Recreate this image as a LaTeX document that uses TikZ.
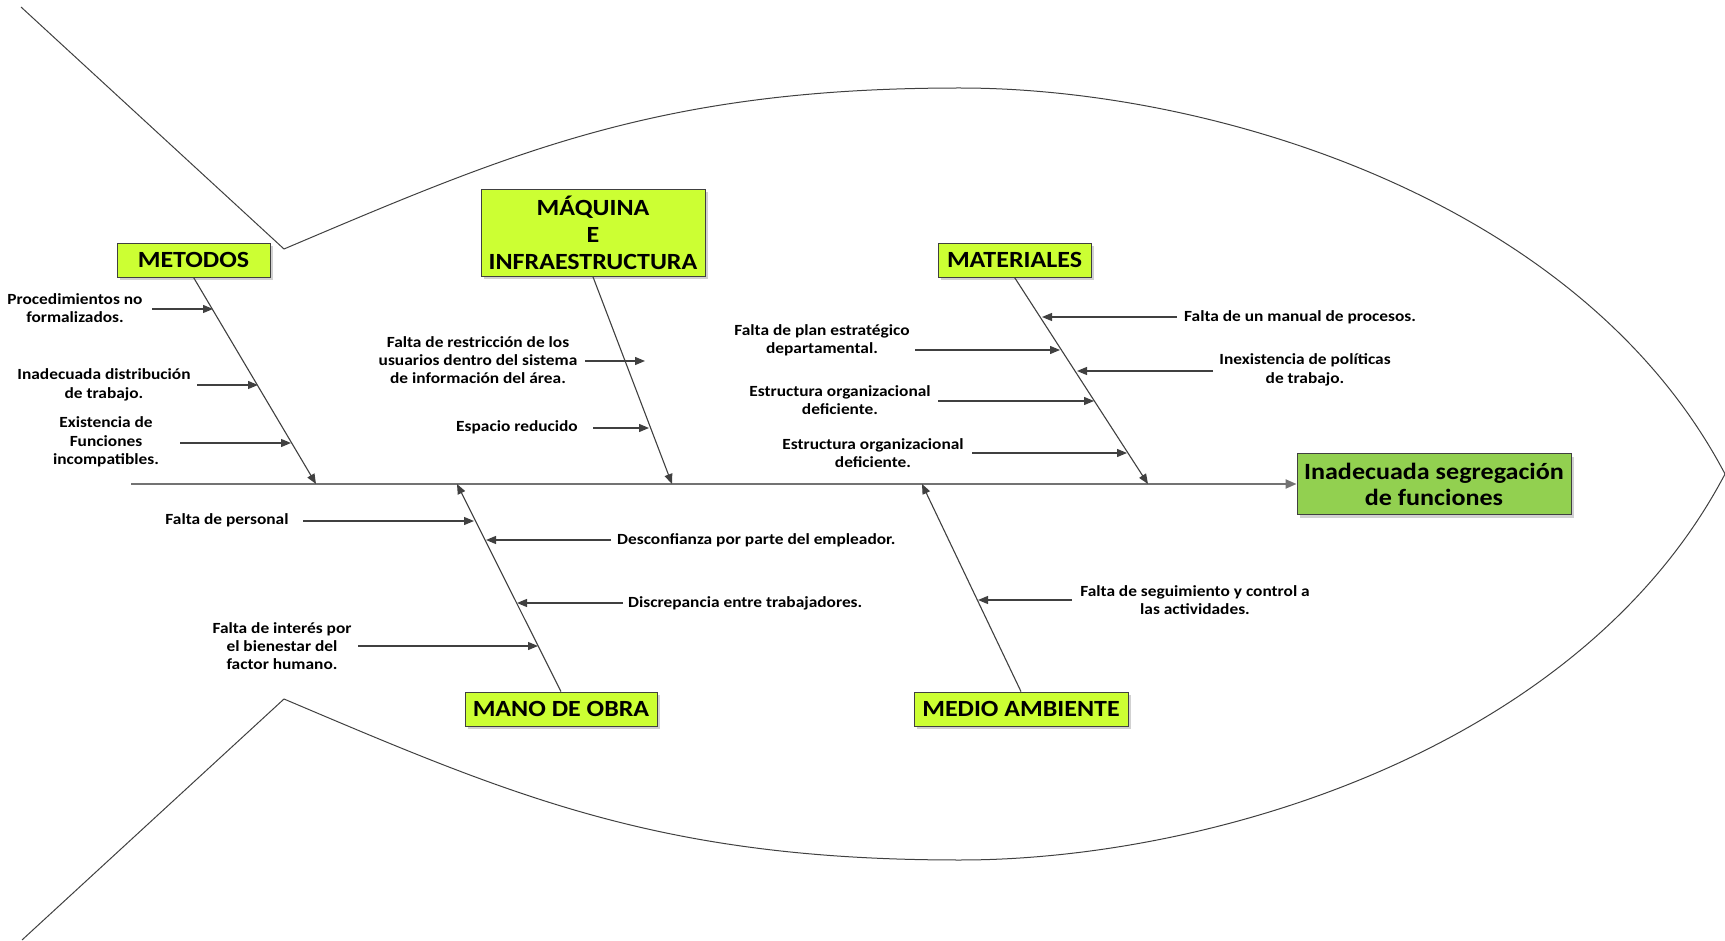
\documentclass[tikz,border=0pt]{standalone}
\usepackage{fontspec}
\setmainfont{Carlito}[FakeStretch=1.12]
\usepackage{tikz}
\usetikzlibrary{arrows.meta, shadows}
\definecolor{lima}{RGB}{204,255,51}
\definecolor{verde}{RGB}{146,208,80}
\definecolor{linea}{RGB}{64,64,64}

\begin{document}
\begin{tikzpicture}[x=1pt, y=-1pt,
    cat/.style={draw=linea, fill=lima, line width=0.8pt, align=center, inner sep=0pt,
        minimum height=34pt, font=\fontsize{23.2}{27}\selectfont\bfseries,
        drop shadow={shadow xshift=3pt, shadow yshift=-3pt, fill=black!18, opacity=1}},
    efecto/.style={cat, fill=verde, minimum width=274pt, minimum height=61pt,
        font=\fontsize{23.3}{26}\selectfont\bfseries},
    causa/.style={align=center, inner sep=0pt, font=\fontsize{15.5}{18.3}\selectfont\bfseries},
    rama/.style={draw=linea, line width=1.1pt, -{Triangle[length=10pt, width=8pt]}},
    flecha/.style={draw=linea, line width=1.2pt, -{Triangle[length=10pt, width=8pt]}},
    contorno/.style={draw=linea, line width=1pt}]
    \useasboundingbox (0, 0) rectangle (1725, 941);

    % fish outline
    \draw[contorno] (21, 7) -- (284, 249) .. controls (514, 151.5) and (660, 88) .. (960, 88)
        .. controls (1210, 88) and (1580, 198) .. (1725, 474);
    \draw[contorno] (22, 940) -- (284, 699) .. controls (514, 796.5) and (660, 860) .. (960, 860)
        .. controls (1210, 860) and (1580, 750) .. (1725, 474);

    % categories and effect
    \node[cat, minimum width=153pt] (metodos) at (193.5, 260) {METODOS};
    \node[cat, minimum width=224pt, minimum height=87pt] (maquina) at (593, 233) {MÁQUINA\\E\\INFRAESTRUCTURA};
    \node[cat, minimum width=153pt] (materiales) at (1014.5, 260) {MATERIALES};
    \node[cat, minimum width=192pt] (mano) at (561, 709) {MANO DE OBRA};
    \node[cat, minimum width=214pt] (medio) at (1021, 709) {MEDIO AMBIENTE};
    \node[efecto] (efecto) at (1434, 484) {Inadecuada segregación\\de funciones};

    \coordinate (cola) at (131, 484);
    \coordinate (metFin) at (316, 484);
    \coordinate (maqFin) at (672, 484);
    \coordinate (matFin) at (1148, 484);
    \coordinate (manFin) at (457, 484);
    \coordinate (medFin) at (922, 484);

    % causes
    \node[causa] (met1) at (75, 308) {Procedimientos no\\formalizados.};
    \node[causa] (met2) at (104, 385) {Inadecuada distribución\\de trabajo.};
    \node[causa] (met3) at (106, 442) {Existencia de\\Funciones\\incompatibles.};
    \node[causa] (maq1) at (478, 360) {Falta de restricción de los\\usuarios dentro del sistema\\de información del área.};
    \node[causa] (maq2) at (517, 427) {Espacio reducido};
    \node[causa, anchor=west] (mat1) at (1184, 317) {Falta de un manual de procesos.};
    \node[causa] (mat2) at (822, 340) {Falta de plan estratégico\\departamental.};
    \node[causa] (mat3) at (1305, 370) {Inexistencia de políticas\\de trabajo.};
    \node[causa] (mat4) at (840, 400) {Estructura organizacional\\deficiente.};
    \node[causa] (mat5) at (873, 453) {Estructura organizacional\\deficiente.};
    \node[causa] (man1) at (227, 520) {Falta de personal};
    \node[causa, anchor=west] (man2) at (617, 540) {Desconfianza por parte del empleador.};
    \node[causa, anchor=west] (man3) at (628, 603) {Discrepancia entre trabajadores.};
    \node[causa] (man4) at (282, 646) {Falta de interés por\\el bienestar del\\factor humano.};
    \node[causa] (med1) at (1195, 600) {Falta de seguimiento y control a\\las actividades.};

    \coordinate (met1a) at (152, 309);  \coordinate (met1b) at (213, 309);
    \coordinate (met2a) at (197, 385);  \coordinate (met2b) at (258, 385);
    \coordinate (met3a) at (180, 443);  \coordinate (met3b) at (291, 443);
    \coordinate (maq1a) at (585, 361);  \coordinate (maq1b) at (645, 361);
    \coordinate (maq2a) at (593, 428);  \coordinate (maq2b) at (649, 428);
    \coordinate (mat1a) at (1177, 317); \coordinate (mat1b) at (1042, 317);
    \coordinate (mat2a) at (915, 350);  \coordinate (mat2b) at (1060, 350);
    \coordinate (mat3a) at (1213, 371); \coordinate (mat3b) at (1077, 371);
    \coordinate (mat4a) at (938, 401);  \coordinate (mat4b) at (1094, 401);
    \coordinate (mat5a) at (972, 453);  \coordinate (mat5b) at (1127, 453);
    \coordinate (man1a) at (303, 521);  \coordinate (man1b) at (474, 521);
    \coordinate (man2a) at (611, 540);  \coordinate (man2b) at (486, 540);
    \coordinate (man3a) at (623, 603);  \coordinate (man3b) at (517, 603);
    \coordinate (man4a) at (358, 646);  \coordinate (man4b) at (538, 646);
    \coordinate (med1a) at (1072, 600); \coordinate (med1b) at (978, 600);

    % spine and branches
    \draw[draw=black!55, line width=2pt, -{Triangle[length=11pt, width=9pt]}] (cola) -- (efecto.west);
    \draw
    (metodos.south) edge[rama] (metFin)
    (maquina.south) edge[rama] (maqFin)
    (materiales.south) edge[rama] (matFin)
    (mano.north) edge[rama] (manFin)
    (medio.north) edge[rama] (medFin);
    \draw
    (met1a) edge[flecha] (met1b)
    (met2a) edge[flecha] (met2b)
    (met3a) edge[flecha] (met3b)
    (maq1a) edge[flecha] (maq1b)
    (maq2a) edge[flecha] (maq2b)
    (mat1a) edge[flecha] (mat1b)
    (mat2a) edge[flecha] (mat2b)
    (mat3a) edge[flecha] (mat3b)
    (mat4a) edge[flecha] (mat4b)
    (mat5a) edge[flecha] (mat5b)
    (man1a) edge[flecha] (man1b)
    (man2a) edge[flecha] (man2b)
    (man3a) edge[flecha] (man3b)
    (man4a) edge[flecha] (man4b)
    (med1a) edge[flecha] (med1b);
\end{tikzpicture}
\end{document}
